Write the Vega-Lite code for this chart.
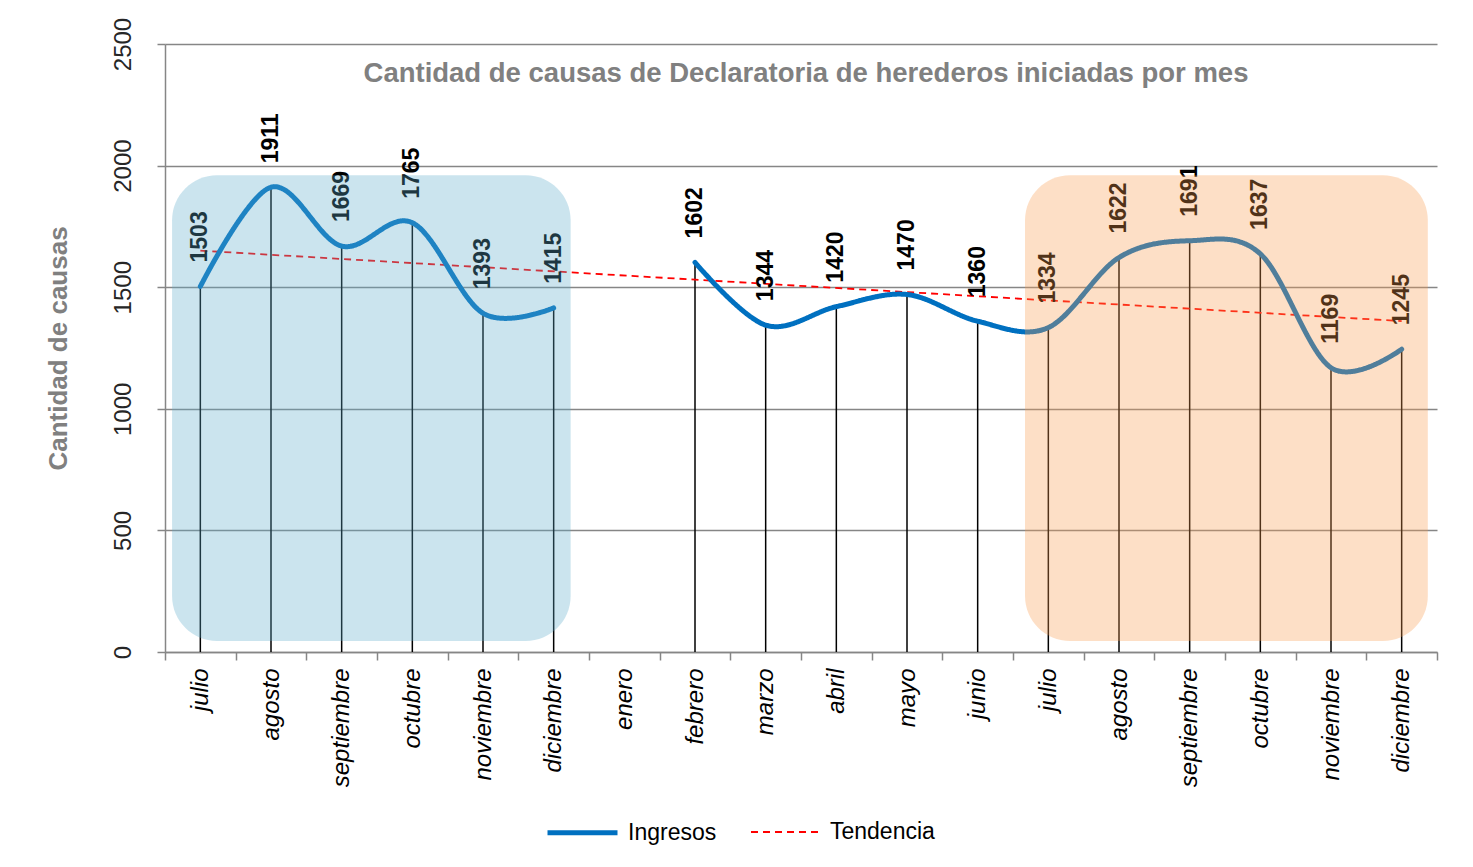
{
  "$schema": "https://vega.github.io/schema/vega-lite/v6.json",
  "width": 1272,
  "height": 608,
  "autosize": {"type": "none"},
  "padding": {"left": 165, "top": 44, "right": 36, "bottom": 215},
  "background": "white",
  "config": {
    "font": "Liberation Sans",
    "view": {"stroke": null}
  },
  "title": {
    "text": "Cantidad de causas de Declaratoria de herederos iniciadas por mes",
    "fontSize": 27.5,
    "fontWeight": "bold",
    "color": "#808080",
    "anchor": "middle",
    "offset": -70,
    "dx": 5
  },
  "datasets": {
    "meses": [
      {"idx": 0, "mes": "julio", "valor": 1503, "tramo": "A"},
      {"idx": 1, "mes": "agosto", "valor": 1911, "tramo": "A"},
      {"idx": 2, "mes": "septiembre", "valor": 1669, "tramo": "A"},
      {"idx": 3, "mes": "octubre", "valor": 1765, "tramo": "A"},
      {"idx": 4, "mes": "noviembre", "valor": 1393, "tramo": "A"},
      {"idx": 5, "mes": "diciembre", "valor": 1415, "tramo": "A"},
      {"idx": 6, "mes": "enero", "valor": null, "tramo": "A"},
      {"idx": 7, "mes": "febrero", "valor": 1602, "tramo": "B"},
      {"idx": 8, "mes": "marzo", "valor": 1344, "tramo": "B"},
      {"idx": 9, "mes": "abril", "valor": 1420, "tramo": "B"},
      {"idx": 10, "mes": "mayo", "valor": 1470, "tramo": "B"},
      {"idx": 11, "mes": "junio", "valor": 1360, "tramo": "B"},
      {"idx": 12, "mes": "julio", "valor": 1334, "tramo": "B"},
      {"idx": 13, "mes": "agosto", "valor": 1622, "tramo": "B"},
      {"idx": 14, "mes": "septiembre", "valor": 1691, "tramo": "B"},
      {"idx": 15, "mes": "octubre", "valor": 1637, "tramo": "B"},
      {"idx": 16, "mes": "noviembre", "valor": 1169, "tramo": "B"},
      {"idx": 17, "mes": "diciembre", "valor": 1245, "tramo": "B"}
    ]
  },
  "encoding": {
    "x": {
      "field": "idx",
      "type": "ordinal",
      "scale": {"domain": [0,1,2,3,4,5,6,7,8,9,10,11,12,13,14,15,16,17], "paddingInner": 0, "paddingOuter": 0},
      "axis": {
        "title": null,
        "labelExpr": "['julio','agosto','septiembre','octubre','noviembre','diciembre','enero','febrero','marzo','abril','mayo','junio','julio','agosto','septiembre','octubre','noviembre','diciembre'][datum.value]",
        "labelAngle": -90,
        "labelFontSize": 24,
        "labelFontStyle": "italic",
        "labelColor": "#000000",
        "labelPadding": 8,
        "tickBand": "extent",
        "tickSize": 8,
        "tickWidth": 1.5,
        "tickColor": "#868686",
        "domainColor": "#868686",
        "domainWidth": 1.5,
        "grid": false
      }
    }
  },
  "layer": [
    {
      "data": {"name": "meses"},
      "transform": [{"filter": "isValid(datum.valor)"}],
      "mark": {"type": "rule", "color": "#000000", "strokeWidth": 1.5},
      "encoding": {
        "y": {
          "field": "valor",
          "type": "quantitative",
          "scale": {"domain": [0, 2500], "nice": false},
          "axis": {
            "title": "Cantidad de causas",
            "titleFontSize": 26,
            "titleFontWeight": "bold",
            "titleColor": "#808080",
            "titlePadding": 40,
            "values": [0, 500, 1000, 1500, 2000, 2500],
            "format": "d",
            "labelAngle": -90,
            "labelAlign": "center",
            "labelBaseline": "bottom",
            "labelFontSize": 24,
            "labelColor": "#262626",
            "labelPadding": 22,
            "tickSize": 8,
            "tickWidth": 1.5,
            "tickColor": "#868686",
            "domainColor": "#868686",
            "domainWidth": 1.5,
            "grid": true,
            "gridColor": "#868686",
            "gridWidth": 1.5
          }
        },
        "y2": {"datum": 0}
      }
    },
    {
      "data": {"name": "meses"},
      "transform": [
        {"filter": "isValid(datum.valor)"},
        {"regression": "valor", "on": "idx", "method": "linear", "extent": [0, 17]}
      ],
      "mark": {"type": "line"},
      "encoding": {
        "y": {"field": "valor", "type": "quantitative"},
        "color": {"datum": "Tendencia"},
        "strokeDash": {"datum": "Tendencia"},
        "strokeWidth": {"datum": "Tendencia"}
      }
    },
    {
      "data": {"name": "meses"},
      "transform": [{"filter": "isValid(datum.valor)"}],
      "mark": {"type": "line", "interpolate": "cardinal", "strokeCap": "round"},
      "encoding": {
        "y": {"field": "valor", "type": "quantitative"},
        "detail": {"field": "tramo"},
        "color": {
          "datum": "Ingresos",
          "type": "nominal",
          "scale": {"domain": ["Ingresos", "Tendencia"], "range": ["#0070C0", "#FF0000"]},
          "legend": {
            "title": null,
            "orient": "none",
            "direction": "horizontal",
            "legendX": 380,
            "legendY": 751,
            "symbolType": "stroke",
            "symbolSize": 4900,
            "labelFontSize": 23,
            "labelColor": "#000000",
            "labelOffset": 8,
            "columnPadding": 30
          }
        },
        "strokeDash": {
          "datum": "Ingresos",
          "type": "nominal",
          "scale": {"domain": ["Ingresos", "Tendencia"], "range": [[1, 0], [7, 5]]},
          "legend": {"title": null}
        },
        "strokeWidth": {
          "datum": "Ingresos",
          "type": "nominal",
          "scale": {"domain": ["Ingresos", "Tendencia"], "range": [5, 1.8]},
          "legend": {"title": null}
        }
      }
    },
    {
      "data": {"name": "meses"},
      "transform": [{"filter": "isValid(datum.valor)"}],
      "mark": {"type": "text", "angle": 270, "align": "left", "baseline": "middle", "dx": 24, "fontSize": 23, "fontWeight": "bold", "color": "#000000"},
      "encoding": {
        "y": {"field": "valor", "type": "quantitative"},
        "text": {"field": "valor", "type": "quantitative"}
      }
    },
    {
      "data": {"values": [{"inicio": 0, "fin": 5, "base": 45, "tope": 1960}]},
      "mark": {"type": "rect", "color": "#5EACCB", "opacity": 0.32, "cornerRadius": 45},
      "encoding": {
        "x": {"field": "inicio", "type": "ordinal", "bandPosition": 0.1},
        "x2": {"field": "fin", "bandPosition": 0.74},
        "y": {"field": "base", "type": "quantitative"},
        "y2": {"field": "tope"}
      }
    },
    {
      "data": {"values": [{"inicio": 12, "fin": 17, "base": 45, "tope": 1960}]},
      "mark": {"type": "rect", "color": "#FA9C4E", "opacity": 0.32, "cornerRadius": 45},
      "encoding": {
        "x": {"field": "inicio", "type": "ordinal", "bandPosition": 0.17},
        "x2": {"field": "fin", "bandPosition": 0.87},
        "y": {"field": "base", "type": "quantitative"},
        "y2": {"field": "tope"}
      }
    }
  ]
}
